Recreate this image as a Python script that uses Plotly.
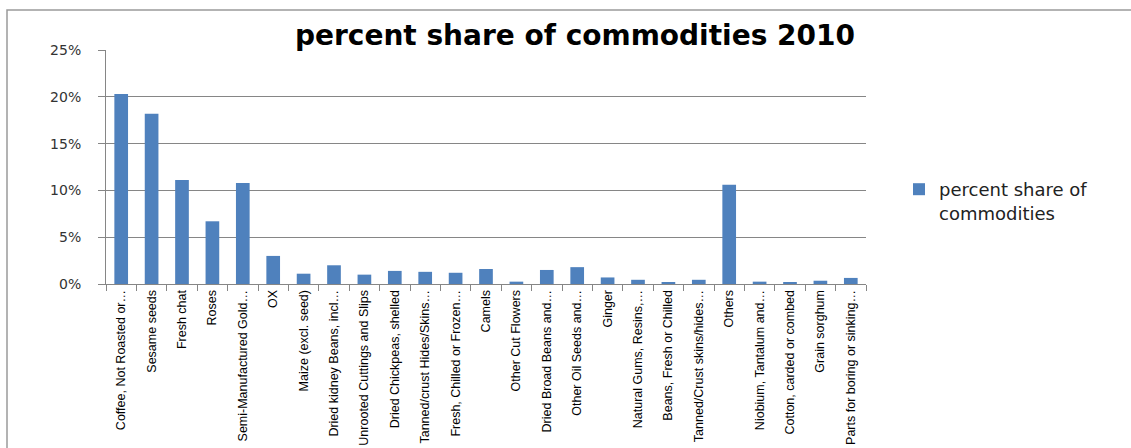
import plotly.graph_objects as go

categories = [
    "Coffee, Not Roasted or…", "Sesame seeds", "Fresh chat", "Roses",
    "Semi-Manufactured Gold…", "OX", "Maize (excl. seed)",
    "Dried kidney Beans, incl…", "Unrooted Cuttings and Slips",
    "Dried Chickpeas, shelled", "Tanned/crust Hides/Skins…",
    "Fresh, Chilled or Frozen…", "Camels", "Other Cut Flowers",
    "Dried Broad Beans and…", "Other Oil Seeds and…", "Ginger",
    "Natural Gums, Resins,…", "Beans, Fresh or Chilled",
    "Tanned/Crust skins/hides…", "Others", "Niobium, Tantalum and…",
    "Cotton, carded or combed", "Grain sorghum", "Parts for boring or sinking…",
]
values = [
    20.3, 18.2, 11.1, 6.7, 10.8, 3.0, 1.1, 2.0, 1.0, 1.4, 1.3, 1.2, 1.6,
    0.25, 1.5, 1.8, 0.7, 0.45, 0.2, 0.45, 10.6, 0.25, 0.12, 0.35, 0.65,
]
series_name = "percent share of<br>commodities"
title_text = "percent share of commodities 2010"

W, H = 1131, 448
L, R, T, B = 106, 265, 50, 164

fig = go.Figure(go.Bar(
    x=categories, y=values, name=series_name,
    marker=dict(color="#4F81BD", line=dict(width=0)),
    showlegend=True,
))

pw = W - L - R
ph = H - T - B
def px_x(p):
    return (p - L) / pw
def px_y(p):
    return (H - B - p) / ph

fig.add_shape(type="rect", xref="paper", yref="paper",
              x0=px_x(7), x1=px_x(1145), y0=px_y(10), y1=px_y(470),
              line=dict(color="#9a9a9a", width=1.5), layer="below")

fig.update_layout(
    width=W, height=H,
    margin=dict(l=L, r=R, t=T, b=B, autoexpand=False),
    paper_bgcolor="white", plot_bgcolor="white",
    bargap=0.55,
    title=dict(text=title_text, x=575 / W, xanchor="center",
               y=1 - 35 / H, yanchor="middle", yref="container",
               font=dict(family="DejaVu Sans", size=28, color="black", weight="bold")),
    legend=dict(x=px_x(899), y=px_y(201), xanchor="left", yanchor="middle",
                valign="top",
                font=dict(family="DejaVu Sans", size=18, color="#222"),
                bgcolor="rgba(0,0,0,0)", itemwidth=30),
    xaxis=dict(type="category", tickangle=-90, tickson="boundaries",
               ticks="outside", ticklen=6, tickcolor="#868686",
               showline=True, linecolor="#868686", linewidth=1,
               tickfont=dict(family="Liberation Sans", size=12.5, color="black"),
               showgrid=False, range=[-0.5, len(categories) - 0.5]),
    yaxis=dict(range=[0, 25], dtick=5, ticksuffix="%", ticks="outside",
               ticklen=7, tickcolor="#868686", showline=True,
               linecolor="#868686", linewidth=1, showgrid=True,
               gridcolor="#868686", gridwidth=1, zeroline=False,
               ticklabelstandoff=14,
               tickfont=dict(family="DejaVu Sans", size=14, color="#333")),
)

fig.write_html("out.html")
